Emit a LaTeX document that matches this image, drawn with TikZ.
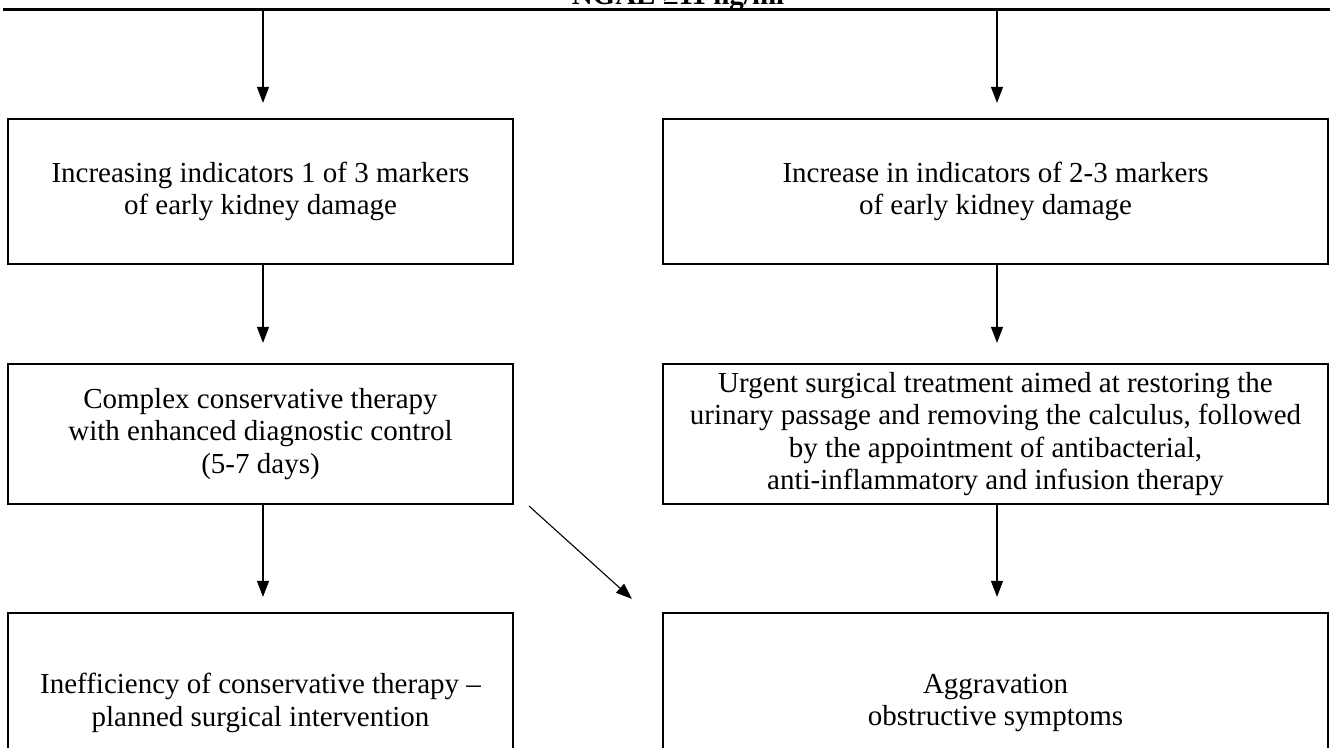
\documentclass[tikz,border=0pt]{standalone}
\usepackage{fontspec}
\setmainfont{Liberation Serif}
\usetikzlibrary{arrows.meta,calc}
\begin{document}
\begin{tikzpicture}[x=1pt,y=-1pt,
  box/.style={draw,line width=2.2pt,align=center,inner sep=0pt,font=\fontsize{29}{32.5}\selectfont},
  lbox/.style={box,minimum width=505pt},
  rbox/.style={box,minimum width=665pt},
  arr/.style={line width=1.1pt,-{Triangle[length=16pt,width=12pt]}}]
\useasboundingbox (0,0) rectangle (1333,747);
% top bar
\node[font=\bfseries\fontsize{29}{32}\selectfont,anchor=base,inner sep=0pt] (ngal) at (678,4) {NGAL ≥11 ng/ml};
\draw[line width=3pt] (3,9) -- (1330,9);
\coordinate (tl) at (263,9);
\coordinate (tr) at (997,9);
% row 1
\node[lbox,minimum height=145pt] (L1) at (260.5,191.5) {Increasing indicators 1 of 3 markers\\of early kidney damage};
\node[rbox,minimum height=145pt] (R1) at (995.5,191.5) {Increase in indicators of 2-3 markers\\of early kidney damage};
% row 2
\node[lbox,minimum height=140pt] (L2) at (260.5,434) {Complex conservative therapy\\with enhanced diagnostic control\\(5-7 days)};
\node[rbox,minimum height=140pt] (R2) at (995.5,434) {Urgent surgical treatment aimed at restoring the\\urinary passage and removing the calculus, followed\\by the appointment of antibacterial,\\anti-inflammatory and infusion therapy};
% row 3
\node[lbox,minimum height=180pt] (L3) at (260.5,703) {Inefficiency of conservative therapy --\\planned surgical intervention};
\node[rbox,minimum height=180pt] (R3) at (995.5,703) {Aggravation\\obstructive symptoms};
% arrows
\draw[arr,shorten >=15pt] (tl) -- (tl |- L1.north);
\draw[arr,shorten >=15pt] (tr) -- (tr |- R1.north);
\draw[arr,shorten >=20pt] (tl |- L1.south) -- (tl |- L2.north);
\draw[arr,shorten >=20pt] (tr |- R1.south) -- (tr |- R2.north);
\draw[arr,shorten >=15pt] (tl |- L2.south) -- (tl |- L3.north);
\draw[arr,shorten >=15pt] (tr |- R2.south) -- (tr |- R3.north);
\draw[arr] ($(L2.south east)+(15,1)$) -- ($(R3.north west)+(-30,-13)$);
\end{tikzpicture}
\end{document}
